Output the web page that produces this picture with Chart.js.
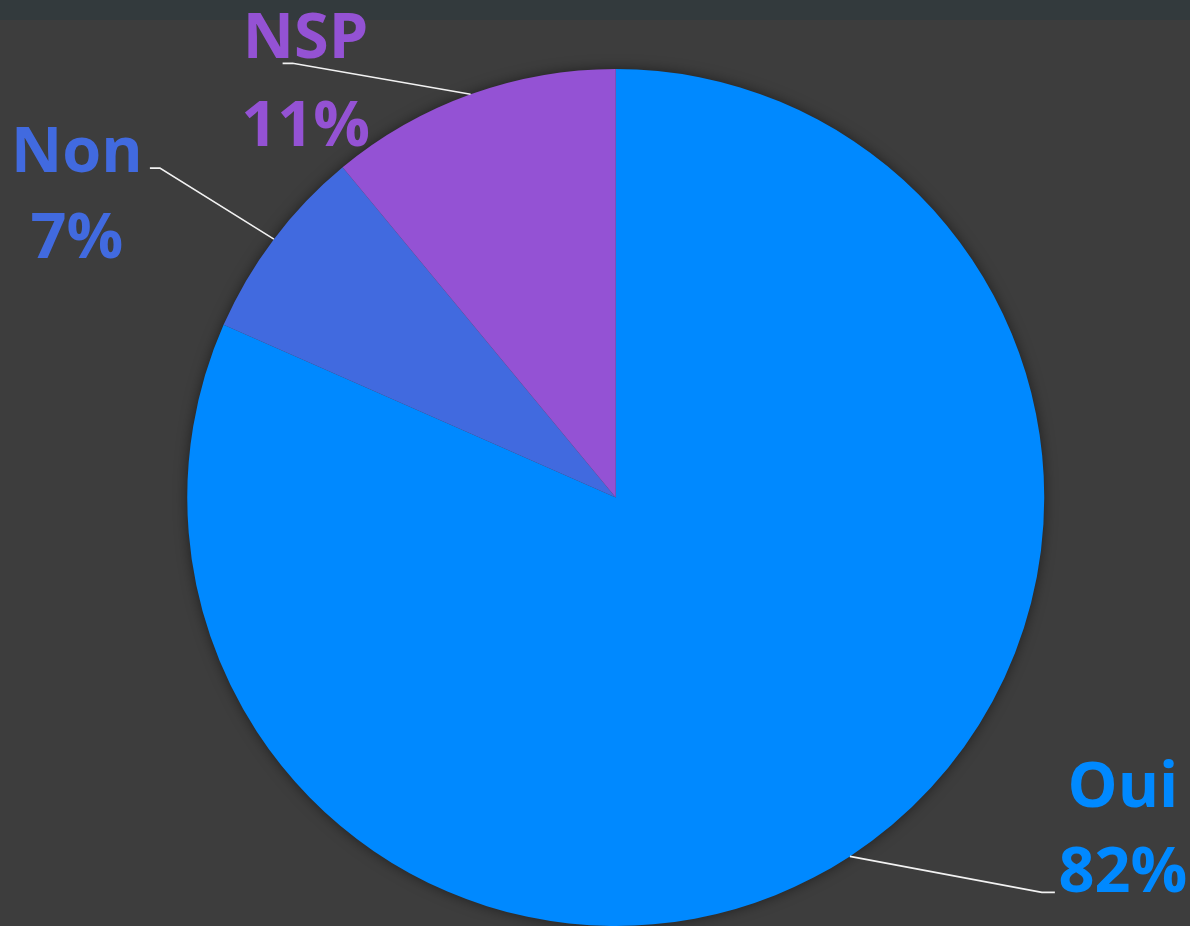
<!DOCTYPE html>
<html>
<head>
<meta charset="utf-8">
<script src="https://cdn.jsdelivr.net/npm/chart.js@4"></script>
<style>
  html, body { margin: 0; padding: 0; background: #3d3d3d; overflow: hidden; }
  #bar { position: absolute; left: 0; top: 0; width: 1190px; height: 20px; background: #333a3d; }
  #wrap { position: absolute; left: 0; top: 0; width: 1190px; height: 926px; }
</style>
</head>
<body>
<div id="bar"></div>
<div id="wrap"><canvas id="myPie"></canvas></div>
<script>
var categories = ['Oui', 'Non', 'NSP'];
var values = [81.6, 7.4, 11.0];
var colors = ['#0089ff', '#416adf', '#9452d4'];

// where each outside label sits, measured from the slice's outer mid point
var labelLayout = [
  { ex: 192, ey: 36, tail: 13, tx: 273, ny: -49.5, py: 35.5 },
  { ex: -114, ey: -71, tail: -10, tx: -197, ny: -67, py: 19 },
  { ex: -178, ey: -31, tail: -10, tx: -165, ny: -36, py: 52 }
];

var pieShadow = {
  id: 'pieShadow',
  beforeDatasetsDraw: function(chart) {
    var arc = chart.getDatasetMeta(0).data[0];
    if (!arc) return;
    var c = chart.ctx;
    c.save();
    c.shadowColor = 'rgba(0,0,0,0.55)';
    c.shadowBlur = 14;
    c.fillStyle = '#3d3d3d';
    c.beginPath();
    c.arc(arc.x, arc.y, arc.outerRadius - 1, 0, Math.PI * 2);
    c.fill();
    c.restore();
  }
};

var outsideLabels = {
  id: 'outsideLabels',
  afterDatasetsDraw: function(chart) {
    var c = chart.ctx;
    var meta = chart.getDatasetMeta(0);
    var total = values.reduce(function(a, b) { return a + b; }, 0);
    meta.data.forEach(function(arc, i) {
      var mid = (arc.startAngle + arc.endAngle) / 2;
      var px = arc.x + Math.cos(mid) * arc.outerRadius;
      var py = arc.y + Math.sin(mid) * arc.outerRadius;
      var l = labelLayout[i];
      c.save();
      c.strokeStyle = '#f2f2f2';
      c.lineWidth = 1.6;
      c.beginPath();
      c.moveTo(px, py);
      c.lineTo(px + l.ex, py + l.ey);
      c.lineTo(px + l.ex + l.tail, py + l.ey);
      c.stroke();

      c.fillStyle = colors[i];
      c.font = 'bold 63px "Open Sans"';
      c.textAlign = 'center';
      c.textBaseline = 'alphabetic';
      c.fillText(categories[i], px + l.tx, py + l.ny);
      c.fillText(Math.round(values[i] / total * 100) + '%', px + l.tx, py + l.py);
      c.restore();
    });
  }
};

var ctx = new Chart(myPie, {
  type: 'pie',
  data: {
    labels: categories,
    datasets: [{
      data: values,
      backgroundColor: colors,
      borderWidth: 0
    }]
  },
  options: {
    responsive: true,
    maintainAspectRatio: false,
    animation: false,
    layout: { padding: { top: 69, bottom: 0, left: 41.5, right: 0 } },
    plugins: {
      legend: { display: false },
      tooltip: { enabled: false }
    }
  },
  plugins: [pieShadow, outsideLabels]
});
</script>
</body>
</html>
